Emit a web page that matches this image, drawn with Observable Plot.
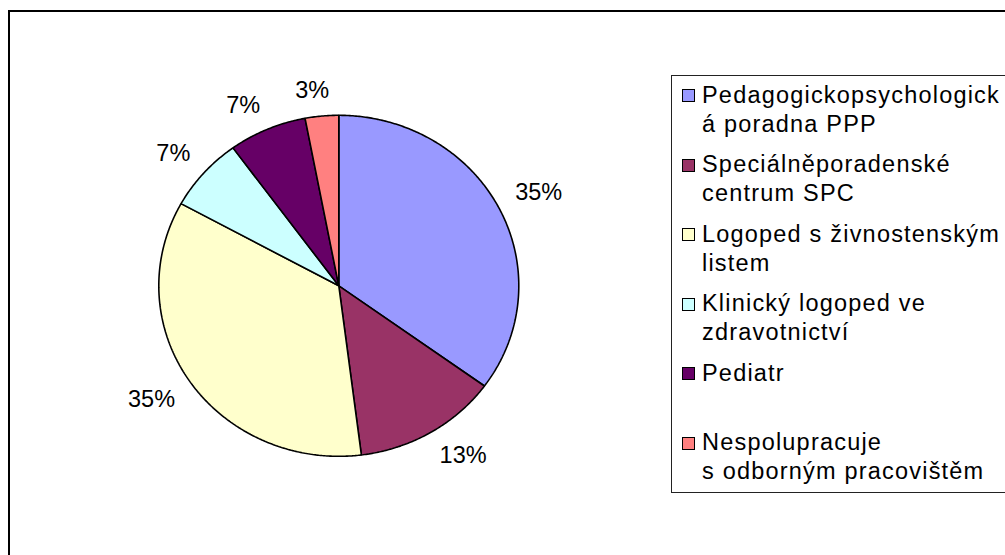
<!DOCTYPE html>
<html>
<head>
<meta charset="utf-8">
<script src="https://cdn.jsdelivr.net/npm/d3@7"></script>
<script src="https://cdn.jsdelivr.net/npm/@observablehq/plot@0.6"></script>
<style>
  html, body { margin: 0; padding: 0; background: #fff; }
  #page { position: relative; width: 1005px; height: 555px; overflow: hidden; background: #fff;
          font-family: "Liberation Sans", Arial, Helvetica, sans-serif; }
  #frame { position: absolute; left: 8px; top: 10px; width: 1200px; height: 800px;
           border-left: 2.5px solid #000; border-top: 2.5px solid #000; box-sizing: border-box; }
  #chart { position: absolute; left: 0; top: 0; }
  #legend { position: absolute; left: 671px; top: 75px; width: 420px; height: 418px;
            border: 1.5px solid #222; box-sizing: border-box; padding-top: 4.5px; }
  .entry { position: relative; height: 69.5px; }
  .swatch { position: absolute; left: 9.5px; top: 8.5px; width: 13px; height: 13px;
            border: 1px solid #000; box-sizing: border-box; }
  .label { margin-left: 30px; font-size: 23.5px; line-height: 29px; letter-spacing: 1.2px;
           white-space: pre; color: #000; }
</style>
</head>
<body>
<div id="page">
  <div id="frame"></div>
  <div id="chart"></div>
  <div id="legend"></div>
</div>
<script>
// ---- data ----
const categories = [
  "Pedagogickopsychologická poradna PPP",
  "Speciálněporadenské centrum SPC",
  "Logoped s živnostenským listem",
  "Klinický logoped ve zdravotnictví",
  "Pediatr",
  "Nespolupracuje s odborným pracovištěm"
];
const legendLines = [
  ["Pedagogickopsychologick", "á poradna PPP"],
  ["Speciálněporadenské", "centrum SPC"],
  ["Logoped s živnostenským", "listem"],
  ["Klinický logoped ve", "zdravotnictví"],
  ["Pediatr"],
  ["Nespolupracuje", "s odborným pracovištěm"]
];
const values = [35, 13, 35, 7, 7, 3];
const colors = ["#9999FF", "#993366", "#FFFFCC", "#CCFFFF", "#660066", "#FF8080"];

// ---- geometry ----
const W = 1005, H = 555;
const cx = 338.3, cy = 285.3, rx = 180, ry = 170.5;
const fontSize = 23.5;

const arcs = d3.pie().sort(null).value(d => d)(values);

const slicePts = [];
arcs.forEach((a, i) => {
  const name = categories[i];
  slicePts.push({name, x: 0, y: 0});
  const n = Math.max(2, Math.ceil((a.endAngle - a.startAngle) / (Math.PI / 360)));
  for (let j = 0; j <= n; j++) {
    const t = a.startAngle + (a.endAngle - a.startAngle) * j / n;
    slicePts.push({name, x: Math.sin(t), y: Math.cos(t)});
  }
});

const clamp = (v) => Math.max(-1, Math.min(1, v));
const k = 1.1, hh = 8.5;
const labels = arcs.map((a, i) => {
  const m = (a.startAngle + a.endAngle) / 2;
  const s = Math.sin(m), c = Math.cos(m);
  const txt = values[i] + "%";
  const w = fontSize * (0.556 * (txt.length - 1) + 0.889);
  return {
    text: txt,
    x: k * s + clamp(s / 0.2) * (w / 2) / rx,
    y: k * c + clamp(c / 0.2) * hh / ry
  };
});

const plot = Plot.plot({
  width: W,
  height: H,
  marginLeft: cx - rx,
  marginRight: W - (cx + rx),
  marginTop: cy - ry,
  marginBottom: H - (cy + ry),
  x: {domain: [-1, 1], axis: null},
  y: {domain: [-1, 1], axis: null},
  color: {domain: categories, range: colors},
  style: {fontFamily: "'Liberation Sans', Arial, sans-serif", background: "transparent", overflow: "visible"},
  marks: [
    Plot.line(slicePts, {x: "x", y: "y", z: "name", fill: "name", stroke: "#000",
      strokeWidth: 1.6, curve: "linear-closed", strokeLinejoin: "miter"}),
    Plot.text(labels, {x: "x", y: "y", text: "text", fontSize: fontSize, fill: "#000"})
  ]
});
document.getElementById("chart").appendChild(plot);

// ---- legend ----
const legend = document.getElementById("legend");
legendLines.forEach((lines, i) => {
  const e = document.createElement("div");
  e.className = "entry";
  const sw = document.createElement("div");
  sw.className = "swatch";
  sw.style.background = colors[i];
  const lb = document.createElement("div");
  lb.className = "label";
  lb.textContent = lines.join("\n");
  e.appendChild(sw);
  e.appendChild(lb);
  legend.appendChild(e);
});
</script>
</body>
</html>
